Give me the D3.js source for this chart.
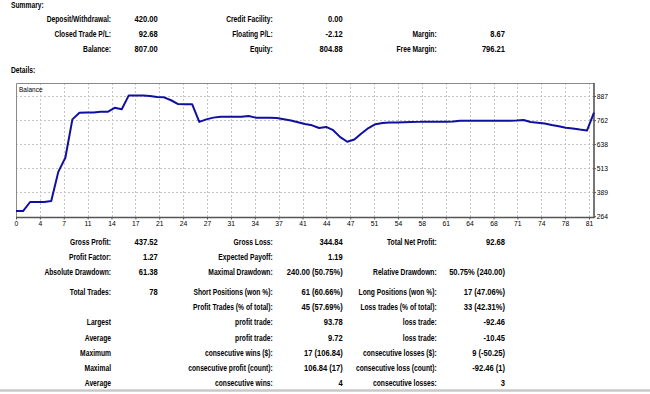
<!DOCTYPE html>
<html>
<head>
<meta charset="utf-8">
<script src="https://cdn.jsdelivr.net/npm/d3@7"></script>
<style>
  body { margin: 0; background: #fff; }
  svg text { font-family: "Liberation Sans", Arial, sans-serif; fill: #000; }
</style>
</head>
<body>
<div id="report"></div>
<script>
// Balance after each step
const balance = [
  291, 291, 338, 338, 338, 343, 494, 567, 766, 800,
  801, 802, 805, 805, 826, 818, 890, 890, 889, 887,
  882, 880, 865, 845, 844, 844, 753, 766, 775, 779,
  779, 779, 779, 783, 775, 774, 774, 773, 767, 760,
  751, 742, 735, 721, 727, 710, 674, 650, 662, 693,
  721, 741, 747, 750, 750, 751, 752, 753, 754, 754,
  754, 754, 755, 759, 759, 759, 759, 759, 759, 759,
  759, 760, 763, 752, 749, 745, 737, 730, 723, 719,
  713, 708, 801
];
const xTickLabels = [0, 4, 7, 11, 14, 17, 21, 24, 27, 31, 34, 37, 41, 44, 47, 51, 54, 58, 61, 64, 68, 71, 74, 78, 81];
const yTickValues = [264, 389, 513, 638, 762, 887];

// [label, value] per column, null = empty cell
const summaryRows = [
  [["Deposit/Withdrawal:", "420.00"], ["Credit Facility:", "0.00"], null],
  [["Closed Trade P/L:", "92.68"], ["Floating P/L:", "-2.12"], ["Margin:", "8.67"]],
  [["Balance:", "807.00"], ["Equity:", "804.88"], ["Free Margin:", "796.21"]]
];
const detailRows = [
  [["Gross Profit:", "437.52"], ["Gross Loss:", "344.84"], ["Total Net Profit:", "92.68"]],
  [["Profit Factor:", "1.27"], ["Expected Payoff:", "1.19"], null],
  [["Absolute Drawdown:", "61.38"], ["Maximal Drawdown:", "240.00 (50.75%)"], ["Relative Drawdown:", "50.75% (240.00)"]],
  [["Total Trades:", "78"], ["Short Positions (won %):", "61 (60.66%)"], ["Long Positions (won %):", "17 (47.06%)"]],
  [null, ["Profit Trades (% of total):", "45 (57.69%)"], ["Loss trades (% of total):", "33 (42.31%)"]],
  [["Largest", ""], ["profit trade:", "93.78"], ["loss trade:", "-92.46"]],
  [["Average", ""], ["profit trade:", "9.72"], ["loss trade:", "-10.45"]],
  [["Maximum", ""], ["consecutive wins ($):", "17 (106.84)"], ["consecutive losses ($):", "9 (-50.25)"]],
  [["Maximal", ""], ["consecutive profit (count):", "106.84 (17)"], ["consecutive loss (count):", "-92.46 (1)"]],
  [["Average", ""], ["consecutive wins:", "4"], ["consecutive losses:", "3"]]
];

const width = 650, height = 394;
const svg = d3.select("#report").append("svg")
  .attr("width", width)
  .attr("height", height);

// condensed text: draw at anchor point and squeeze horizontally
function addText(g, str, x, y, o) {
  g.append("text")
    .attr("transform", `translate(${x},${y}) scale(${o.sx},1)`)
    .attr("text-anchor", o.anchor || "end")
    .attr("dy", "0.35em")
    .attr("font-size", o.size)
    .attr("font-weight", o.weight || "bold")
    .text(str);
}

const labelStyle = { sx: 0.79, size: 8.5 };
const valueStyle = { sx: 0.89, size: 8.5 };
// right edges of label / value for the three columns
const cols = [[111, 157.7], [272.7, 342.7], [436.7, 505]];

function drawTable(rows, rowY) {
  const g = svg.append("g");
  rows.forEach((row, i) => {
    row.forEach((cell, c) => {
      if (!cell) return;
      addText(g, cell[0], cols[c][0], rowY(i), labelStyle);
      if (cell[1]) addText(g, cell[1], cols[c][1], rowY(i), valueStyle);
    });
  });
}

addText(svg, "Summary:", 11, 5, { sx: 0.79, size: 8.5, anchor: "start" });
drawTable(summaryRows, i => 19 + i * 15.1);
addText(svg, "Details:", 11, 70.5, { sx: 0.79, size: 8.5, anchor: "start" });
drawTable(detailRows, i => 242 + i * 15.1 + (i >= 3 ? 5 : 0));

// Balance graph
const plot = { left: 16, right: 594, top: 83, bottom: 217.5 };

const x = d3.scaleLinear()
  .domain([0, balance.length - 1])
  .range([plot.left, plot.right]);
const y = d3.scaleLinear()
  .domain([264, 887])
  .range([216.3, 96]);
const xTicks = d3.scalePoint()
  .domain(xTickLabels)
  .range([plot.left, 589]);

const chart = svg.append("g");

chart.append("rect")
  .attr("x", plot.left)
  .attr("y", plot.top)
  .attr("width", plot.right - plot.left)
  .attr("height", plot.bottom - plot.top)
  .attr("fill", "#fff");

// dashed grid
chart.append("g")
  .selectAll("line")
  .data(yTickValues.slice(1))
  .join("line")
  .attr("x1", plot.left)
  .attr("x2", plot.right)
  .attr("y1", d => Math.round(y(d)) + 0.5)
  .attr("y2", d => Math.round(y(d)) + 0.5)
  .attr("stroke", "#c4c4c4")
  .attr("stroke-dasharray", "2,2");

chart.append("g")
  .selectAll("line")
  .data(xTickLabels.slice(1))
  .join("line")
  .attr("x1", d => Math.round(xTicks(d)) + 0.5)
  .attr("x2", d => Math.round(xTicks(d)) + 0.5)
  .attr("y1", plot.top)
  .attr("y2", plot.bottom)
  .attr("stroke", "#c4c4c4")
  .attr("stroke-dasharray", "2,2");

// frame
chart.append("path")
  .attr("d", `M${plot.left + 0.5},${plot.bottom}V${plot.top + 0.5}H${plot.right}`)
  .attr("fill", "none")
  .attr("stroke", "#8a8a8a");
chart.append("path")
  .attr("d", `M${plot.left},${plot.bottom}H${plot.right}V${plot.top}`)
  .attr("fill", "none")
  .attr("stroke", "#555")
  .attr("stroke-width", 1.6);

// axes
const xAxis = chart.append("g")
  .attr("transform", `translate(0,${plot.bottom})`)
  .call(d3.axisBottom(xTicks).tickSize(2).tickPadding(1));
const yAxis = chart.append("g")
  .attr("transform", `translate(${plot.right},0)`)
  .call(d3.axisRight(y).tickValues(yTickValues).tickSize(2).tickPadding(1));

[xAxis, yAxis].forEach(a => {
  a.select(".domain").remove();
  a.selectAll(".tick line").attr("stroke", "#555");
  a.selectAll(".tick text")
    .attr("font-size", 7.5)
    .attr("fill", "#000")
    .style("font-family", "'Liberation Sans', Arial, sans-serif");
});
xAxis.selectAll(".tick text").attr("transform", "scale(0.9,1)");
yAxis.selectAll(".tick text").attr("transform", "scale(0.9,1)");

addText(chart, "Balance", 19, 89.5, { sx: 0.87, size: 7.5, weight: "normal", anchor: "start" });

// balance line
chart.append("path")
  .datum(balance)
  .attr("fill", "none")
  .attr("stroke", "#1010a0")
  .attr("stroke-width", 2)
  .attr("stroke-linejoin", "round")
  .attr("d", d3.line().x((d, i) => x(i)).y(d => y(d)));

// bottom separator
svg.append("line")
  .attr("x1", 0)
  .attr("x2", width)
  .attr("y1", 390.5)
  .attr("y2", 390.5)
  .attr("stroke", "#c8c8c8")
  .attr("stroke-width", 2.5);
</script>
</body>
</html>
